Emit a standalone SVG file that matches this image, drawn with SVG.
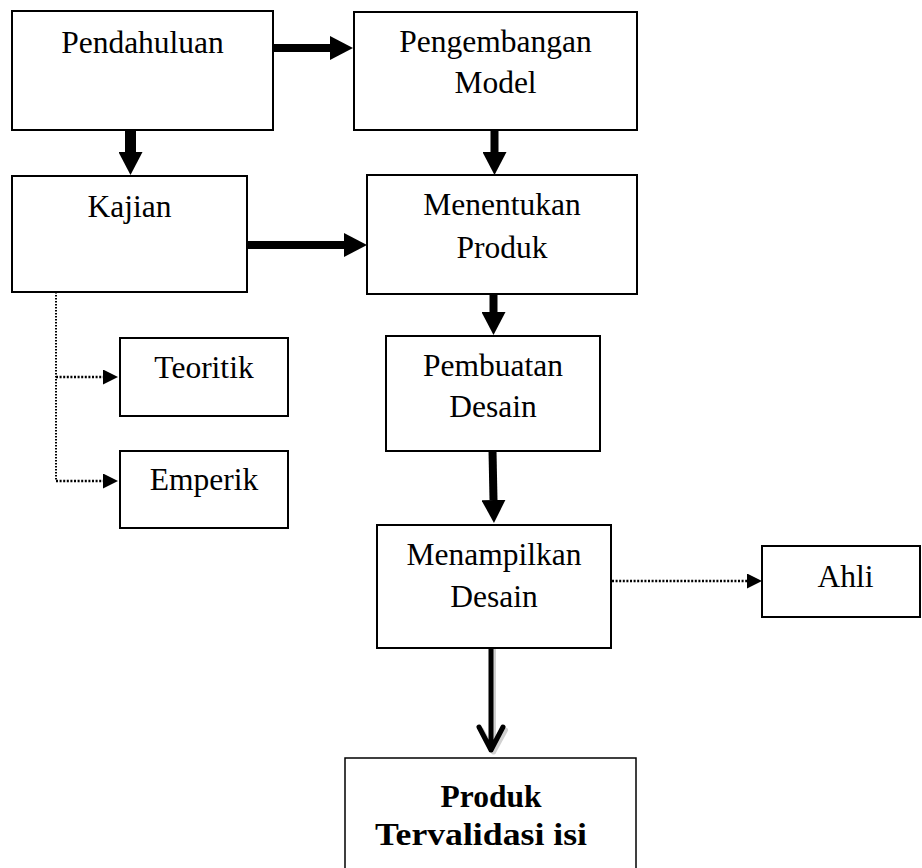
<svg xmlns="http://www.w3.org/2000/svg" width="922" height="868" viewBox="0 0 922 868">
<style>
  .box { fill: #ffffff; stroke: #000000; stroke-width: 2; }
  .lbl { font-family: "Liberation Serif", "Times New Roman", serif; font-size: 31.5px; fill: #000000; text-anchor: middle; }
  .bold { font-weight: bold; }
  .thick { stroke: #000000; stroke-width: 8; fill: none; marker-end: url(#bigHead); }
  .dot { stroke: #000000; stroke-width: 2; stroke-dasharray: 1.6 1.4; fill: none; }
  .dotArrow { stroke: #000000; stroke-width: 2.6; stroke-dasharray: 2 1.6; fill: none; marker-end: url(#smallHead); }
</style>
<defs>
  <marker id="bigHead" markerUnits="userSpaceOnUse" markerWidth="23" markerHeight="24" viewBox="0 0 23 24" refX="0" refY="12" orient="auto">
    <path d="M0,0 L23,12 L0,24 Z" fill="#000000"/>
  </marker>
  <marker id="smallHead" markerUnits="userSpaceOnUse" markerWidth="15" markerHeight="15" viewBox="0 0 15 15" refX="0" refY="7.5" orient="auto">
    <path d="M0,0 L15,7.5 L0,15 Z" fill="#000000"/>
  </marker>
</defs>
<rect width="922" height="868" fill="#ffffff"/>

<g id="connectors">
  <line class="thick" x1="274" y1="48" x2="330" y2="48"/>
  <line class="thick" x1="130.5" y1="130" x2="130.5" y2="152" style="stroke-width:11"/>
  <line class="thick" x1="247" y1="245" x2="344" y2="245"/>
  <line class="thick" x1="494.5" y1="130" x2="494.5" y2="152"/>
  <line class="thick" x1="493.5" y1="294" x2="493.5" y2="312"/>
  <line class="thick" x1="492.5" y1="451" x2="493.5" y2="500"/>
  <g id="arrow-final">
    <path d="M493.5,650 L493.5,752 M481.5,730 L493.5,752 L505.5,730" stroke="#b0b0b0" stroke-width="5" fill="none" stroke-linecap="round" stroke-linejoin="round" opacity="0.6"/>
    <path d="M491,648 L491,750 M479,727 L491,750 L503,727" stroke="#000000" stroke-width="5" fill="none" stroke-linecap="round" stroke-linejoin="round"/>
  </g>
  <line class="dot" x1="56" y1="292" x2="56" y2="481"/>
  <line class="dotArrow" x1="56" y1="377" x2="103" y2="377"/>
  <line class="dotArrow" x1="56" y1="481" x2="103" y2="481"/>
  <line class="dotArrow" x1="612" y1="581" x2="747" y2="581"/>
</g>

<g id="node-pendahuluan">
  <rect class="box" x="12" y="11" width="261" height="119"/>
  <text class="lbl" x="142.5" y="53">Pendahuluan</text>
</g>
<g id="node-pengembangan">
  <rect class="box" x="354" y="12" width="283" height="118"/>
  <text class="lbl" x="495.5" y="52">Pengembangan</text>
  <text class="lbl" x="495.5" y="93">Model</text>
</g>
<g id="node-kajian">
  <rect class="box" x="12" y="176" width="235" height="116"/>
  <text class="lbl" x="129.5" y="217">Kajian</text>
</g>
<g id="node-menentukan">
  <rect class="box" x="367" y="175" width="270" height="119"/>
  <text class="lbl" x="502" y="215">Menentukan</text>
  <text class="lbl" x="502" y="258">Produk</text>
</g>
<g id="node-teoritik">
  <rect class="box" x="120" y="338" width="168" height="78"/>
  <text class="lbl" x="204" y="378">Teoritik</text>
</g>
<g id="node-emperik">
  <rect class="box" x="120" y="451" width="168" height="77"/>
  <text class="lbl" x="204" y="490">Emperik</text>
</g>
<g id="node-pembuatan">
  <rect class="box" x="386" y="336" width="214" height="115"/>
  <text class="lbl" x="493" y="376">Pembuatan</text>
  <text class="lbl" x="493" y="417">Desain</text>
</g>
<g id="node-menampilkan">
  <rect class="box" x="377" y="525" width="234" height="123"/>
  <text class="lbl" x="494" y="565">Menampilkan</text>
  <text class="lbl" x="494" y="607">Desain</text>
</g>
<g id="node-ahli">
  <rect class="box" x="762" y="546" width="158" height="71"/>
  <text class="lbl" x="845.5" y="587">Ahli</text>
</g>
<g id="node-produk">
  <rect class="box" x="345" y="758" width="291" height="130" style="stroke-width:1.5"/>
  <text class="lbl bold" x="491" y="807">Produk</text>
  <text class="lbl bold" x="481" y="845" textLength="212" lengthAdjust="spacingAndGlyphs">Tervalidasi isi</text>
</g>
</svg>
